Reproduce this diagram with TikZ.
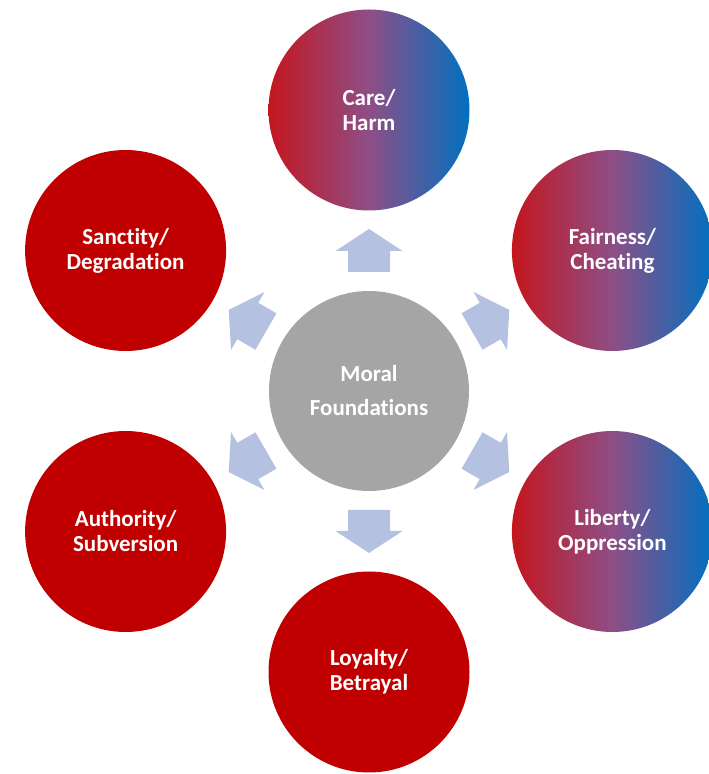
\documentclass[tikz,border=0pt]{standalone}
\usepackage{fontspec}
\setmainfont{Carlito}[RawFeature={-liga}]
\definecolor{cRed}{RGB}{192,0,0}
\definecolor{gL}{RGB}{196,22,30}
\definecolor{gM}{RGB}{142,78,134}
\definecolor{gR}{RGB}{0,112,192}
\definecolor{hubgray}{RGB}{165,165,165}
\definecolor{arrowblue}{RGB}{180,193,225}
\begin{document}
\begin{tikzpicture}[x=1pt,y=1pt]
\useasboundingbox (0,0) rectangle (709,774);
\tikzset{
  petal/.style={circle, minimum size=201pt, inner sep=0pt, text=white,
    font=\fontsize{23}{25}\selectfont\bfseries, align=center},
  redpetal/.style={petal, fill=cRed},
  gradpetal/.style={petal, left color=gL, right color=gR, middle color=gM},
  hub/.style={circle, minimum size=200pt, inner sep=0pt, fill=hubgray, text=white,
    font=\fontsize{23}{34}\selectfont\bfseries, align=center},
  blockarrow/.style={fill=arrowblue, draw=none}
}
\node[hub] (hub) at (369,383) {Moral\\Foundations};
\node[gradpetal] (care) at (369,664) {Care/\\Harm};
\node[gradpetal] (fair) at (612.4,523.5) {Fairness/\\Cheating};
\node[gradpetal] (liberty) at (612.4,242.5) {Liberty/\\Oppression};
\node[redpetal] (loyalty) at (369,102) {Loyalty/\\Betrayal};
\node[redpetal] (authority) at (125.6,242.5) {Authority/\\Subversion};
\node[redpetal] (sanctity) at (125.6,523.5) {Sanctity/\\Degradation};
\foreach \a in {90,30,-30,-90,-150,150}{
  \fill[blockarrow, shift={(hub.center)}, rotate=\a]
    (119,-21) -- (140,-21) -- (140,-33.5) -- (162,0) -- (140,33.5) -- (140,21) -- (119,21) -- cycle;
}
\end{tikzpicture}
\end{document}
